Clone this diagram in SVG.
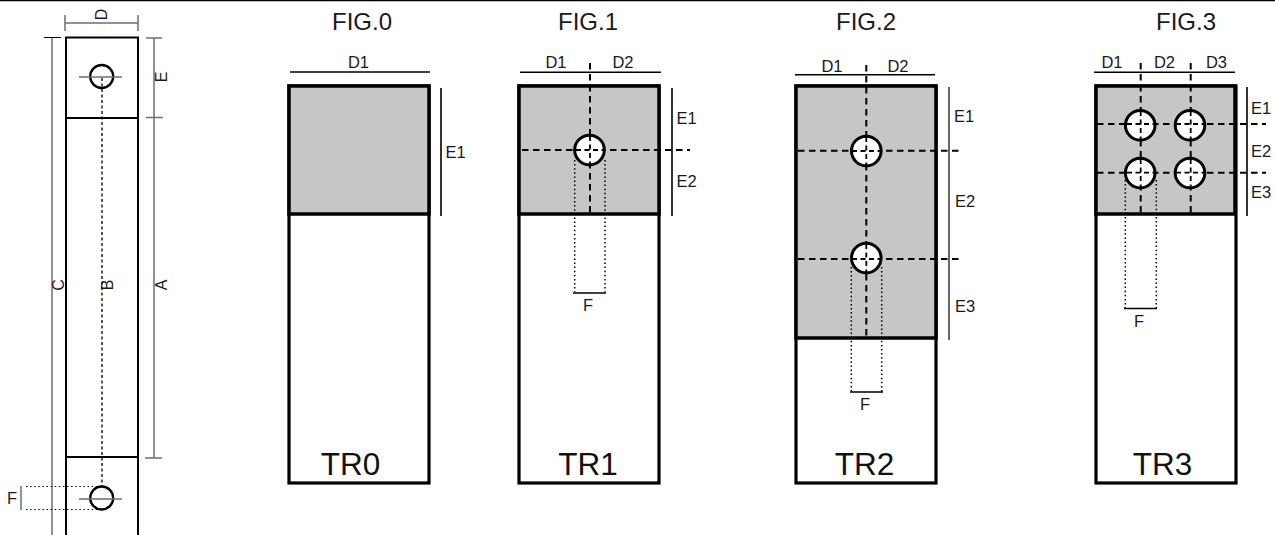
<svg xmlns="http://www.w3.org/2000/svg" width="1275" height="535" viewBox="0 0 1275 535">
<style>
text{font-family:"Liberation Sans",Arial,sans-serif;fill:#1a1a1a}
.fig{font-size:24px;text-anchor:middle}
.lab{font-size:16.500px;text-anchor:middle}
.rot{font-size:16px;text-anchor:middle}
.tr{font-size:31.500px;text-anchor:middle;fill:#111}
.body{fill:#fff;stroke:#000;stroke-width:3.200}
.shade{fill:#c6c6c6;stroke:#000;stroke-width:3.500}
.dim{fill:none;stroke:#000;stroke-width:1.600}
.gdim{fill:none;stroke:#6e6e6e;stroke-width:1.500}
.dash{fill:none;stroke:#000;stroke-width:2;stroke-dasharray:6.500 4.500}
.dashs{fill:none;stroke:#000;stroke-width:1.800;stroke-dasharray:5 3.500}
.dot{fill:none;stroke:#000;stroke-width:1.500;stroke-dasharray:1.500 2.600}
.hole{fill:#fff;stroke:#000;stroke-width:3}
.thick{fill:none;stroke:#000;stroke-width:2}
</style>
<rect width="1275" height="535" fill="#fff"/>
<path d="M0 0.500H1275" stroke="#000" stroke-width="1.500"/>

<g id="side-view">
<path class="thick" d="M66 535V37.500H138V535M66 118H138M66 457H138"/>
<path class="gdim" d="M65 23H138M65 15V31M138 15V31"/>
<path class="gdim" d="M52 38V535M154 38V458M146 38H162M146 117.500H163M145 458H162"/>
<path d="M44 37.500H61" stroke="#000" stroke-width="1"/>
<path fill="none" stroke="#000" stroke-width="1.300" stroke-dasharray="3 2.500" d="M102 78V486"/>
<path fill="none" stroke="#000" stroke-width="1.200" stroke-dasharray="1.500 2.600" d="M26 486.500H100M26 509.500H100"/>
<path class="gdim" d="M21 486V510"/>
<circle cx="101.700" cy="76.500" r="11.500" fill="none" stroke="#000" stroke-width="2.300"/>
<circle cx="101.700" cy="498" r="11.500" fill="none" stroke="#000" stroke-width="2.300"/>
<path class="gdim" d="M79 77H122M79 499H122"/>
<text class="rot" transform="translate(107 14.500) rotate(-90)">D</text>
<text class="rot" transform="translate(167 77) rotate(-90)">E</text>
<text class="rot" transform="translate(167 285) rotate(-90)">A</text>
<text class="rot" transform="translate(113 285) rotate(-90)">B</text>
<text class="rot" transform="translate(64 285) rotate(-90)">C</text>
<text class="lab" x="12" y="504">F</text>
</g>

<g id="fig0">
<text class="fig" x="362" y="30">FIG.0</text>
<rect class="body" x="289" y="86" width="140" height="397"/>
<rect class="shade" x="289" y="86" width="140" height="128"/>
<path class="dim" d="M290 72H430M441 88V216"/>
<text class="lab" x="358.500" y="68">D1</text>
<text class="lab" x="455.500" y="158">E1</text>
<text class="tr" x="350.500" y="475">TR0</text>
</g>

<g id="fig1">
<text class="fig" x="588" y="30">FIG.1</text>
<rect class="body" x="519" y="86" width="140" height="397"/>
<rect class="shade" x="519" y="86" width="140" height="128"/>
<path class="dim" d="M520 72.300H661M672 88V216M573 293H606"/>
<path class="dash" d="M590 63V214M522 150H690"/>
<path class="dot" d="M574.700 160V292M605 160V292"/>
<circle class="hole" cx="589.500" cy="150" r="14.800"/>
<path class="dashs" d="M590 136V164M576 150H604"/>
<text class="lab" x="556" y="68">D1</text>
<text class="lab" x="623" y="68">D2</text>
<text class="lab" x="686.500" y="124">E1</text>
<text class="lab" x="686.500" y="187">E2</text>
<text class="lab" x="588" y="311">F</text>
<text class="tr" x="588" y="475">TR1</text>
</g>

<g id="fig2">
<text class="fig" x="866" y="30">FIG.2</text>
<rect class="body" x="796" y="86" width="140" height="397"/>
<rect class="shade" x="796" y="86" width="140" height="252"/>
<path class="dim" d="M795 74.700H935M850 392H883"/>
<path class="gdim" style="stroke:#333" d="M949 87V340"/>
<path class="dash" d="M866.300 65V340M798 150.700H963M798 259H963"/>
<path class="dot" d="M851.300 267V392M881.700 267V392"/>
<circle class="hole" cx="866.300" cy="151" r="14.800"/>
<circle class="hole" cx="866.300" cy="258" r="14.800"/>
<path class="dashs" d="M866.300 137V165M852 151H881M866.300 244V272M852 259H881"/>
<text class="lab" x="832" y="72">D1</text>
<text class="lab" x="898" y="72">D2</text>
<text class="lab" x="964" y="122">E1</text>
<text class="lab" x="965" y="207">E2</text>
<text class="lab" x="965" y="312">E3</text>
<text class="lab" x="865" y="410">F</text>
<text class="tr" x="864.500" y="475">TR2</text>
</g>

<g id="fig3">
<text class="fig" x="1186" y="30">FIG.3</text>
<rect class="body" x="1096" y="86" width="140" height="397"/>
<rect class="shade" x="1096" y="86" width="139" height="128"/>
<path class="dim" d="M1094 72.300H1235M1247 87V216M1124 308.500H1157"/>
<path class="dash" d="M1140.700 63V214M1190.700 63V214M1097 124H1266M1097 172.700H1266"/>
<path class="dot" d="M1125.300 180V308M1156.300 180V308"/>
<circle class="hole" cx="1140.200" cy="125.300" r="14.800"/>
<circle class="hole" cx="1190" cy="125.300" r="14.800"/>
<circle class="hole" cx="1140.200" cy="173" r="14.800"/>
<circle class="hole" cx="1190" cy="173" r="14.800"/>
<path class="dashs" d="M1140.700 111V139M1190.700 111V139M1140.700 159V187M1190.700 159V187M1127 124H1155M1176 124H1204M1127 172.700H1155M1176 172.700H1204"/>
<text class="lab" x="1112" y="68">D1</text>
<text class="lab" x="1164.500" y="68">D2</text>
<text class="lab" x="1216.500" y="68">D3</text>
<text class="lab" x="1261" y="114">E1</text>
<text class="lab" x="1261" y="157">E2</text>
<text class="lab" x="1261" y="198">E3</text>
<text class="lab" x="1139" y="327">F</text>
<text class="tr" x="1162.500" y="475">TR3</text>
</g>
</svg>
